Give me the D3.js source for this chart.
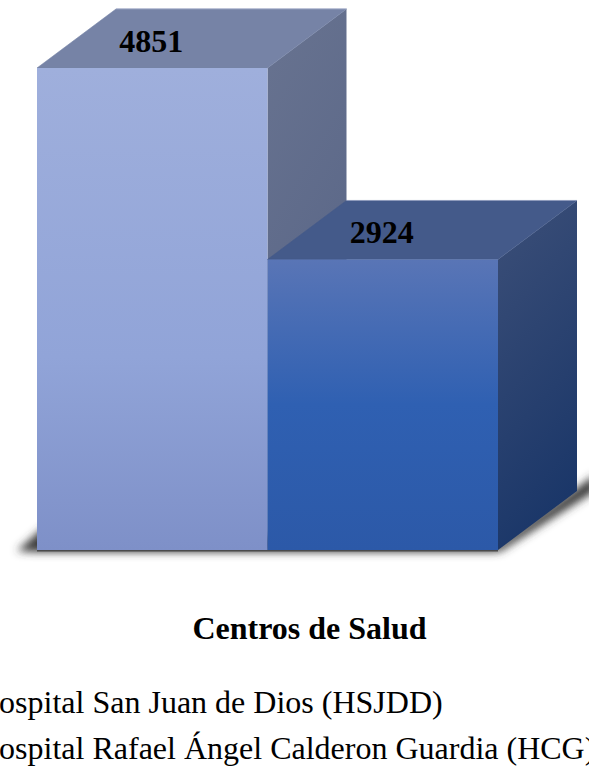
<!DOCTYPE html>
<html><head><meta charset="utf-8">
<script src="https://cdn.jsdelivr.net/npm/d3@7"></script>
<style>html,body{margin:0;padding:0;background:#fff;overflow:hidden}svg{display:block}</style>
</head><body><svg id="c" width="589" height="767"></svg>
<script>
const categories = ["Hospital San Juan de Dios (HSJDD)", "Hospital Rafael Ángel Calderon Guardia (HCG)"];
const values = [4851, 2924];
const axisTitle = "Centros de Salud";
const frontStops = [
  [["0","#9fafdc"],["0.6","#91a4d8"],["1","#7e90c8"]],
  [["0","#5975b6"],["0.5","#2f60b2"],["1","#2c59a8"]]
];
const sideStops = [
  [["0","#687390"],["1","#566385"]],
  [["0","#3c4f78"],["1","#1b3769"]]
];
const topFill = ["#7683a6","#445a8a"];

const svg = d3.select("#c");
const x = d3.scaleBand().domain(categories).range([37,498]).padding(0);
const y = d3.scaleLinear().domain([0,4851]).range([550,68]);
const dx = 79, dy = -59;
const line = d3.line();
const defs = svg.append("defs");
const grad = (id, stops, x2, y2) => {
  const g = defs.append("linearGradient").attr("id",id).attr("x1",0).attr("y1",0).attr("x2",x2).attr("y2",y2);
  stops.forEach(s => g.append("stop").attr("offset",s[0]).attr("stop-color",s[1]));
};
categories.forEach((c,i)=>{
  grad("f"+i, frontStops[i], 0, 1);
  grad("s"+i, sideStops[i], 0.25, 1);
});
const f = defs.append("filter").attr("id","blur").attr("filterUnits","userSpaceOnUse")
  .attr("x",-20).attr("y",420).attr("width",660).attr("height",170);
f.append("feGaussianBlur").attr("stdDeviation",4);

// ground shadow
const x0 = x.range()[0], x1 = x.range()[1], base = y(0);
svg.append("path").attr("filter","url(#blur)").attr("fill","#3a3a3a")
  .attr("d", line([[x0+6,base-22],[x0-20,base+1],[x0,base+2],[x1-4,base+2],[x1+3,base+1],[x1+dx+18,base+dy],[x1+dx+18,base+dy-16],[x1+dx-4,base+dy],[x1,base-6]])+"Z");

const g = svg.selectAll("g.bar").data(values).join("g").attr("class","bar");
g.each(function(v,i){
  const l = x(categories[i]), r = l + x.bandwidth(), t = y(v), b = y(0);
  const s = d3.select(this);
  s.append("path").attr("fill",`url(#s${i})`).attr("d",line([[r,t],[r+dx,t+dy],[r+dx,b+dy],[r,b]])+"Z");
  s.append("path").attr("fill",topFill[i]).attr("stroke",topFill[i]).attr("stroke-width",0.6)
    .attr("d",line([[l,t],[l+dx,t+dy],[r+dx,t+dy],[r,t]])+"Z");
  s.append("path").attr("fill","none").attr("stroke","#9aa5c4").attr("stroke-width",0.8)
    .attr("d",line([[l+dx,t+dy],[r+dx,t+dy]]));
  s.append("rect").attr("x",l).attr("y",t).attr("width",x.bandwidth()).attr("height",b-t).attr("fill",`url(#f${i})`);
  s.append("text").text(v).attr("x",l+x.bandwidth()/2-1).attr("y",t-16.5)
    .attr("text-anchor","middle").attr("font-family","Liberation Serif").attr("font-weight","bold")
    .attr("font-size",32).attr("fill","#000");
});

// thin dark contact line under the bars
svg.append("path").attr("fill","none").attr("stroke","#4a4a4a").attr("stroke-width",1.5)
  .attr("d",line([[x0,base+0.8],[x1,base+0.8]]));

svg.append("text").text(axisTitle).attr("x",309.5).attr("y",639).attr("text-anchor","middle")
  .attr("font-family","Liberation Serif").attr("font-weight","bold").attr("font-size",32).attr("fill","#000");

svg.selectAll("text.leg").data(categories).join("text").attr("class","leg").text(d=>d)
  .attr("x",-24).attr("y",(d,i)=>713+i*46)
  .attr("font-family","Liberation Serif").attr("font-size",32).attr("fill","#000");
</script></body></html>
